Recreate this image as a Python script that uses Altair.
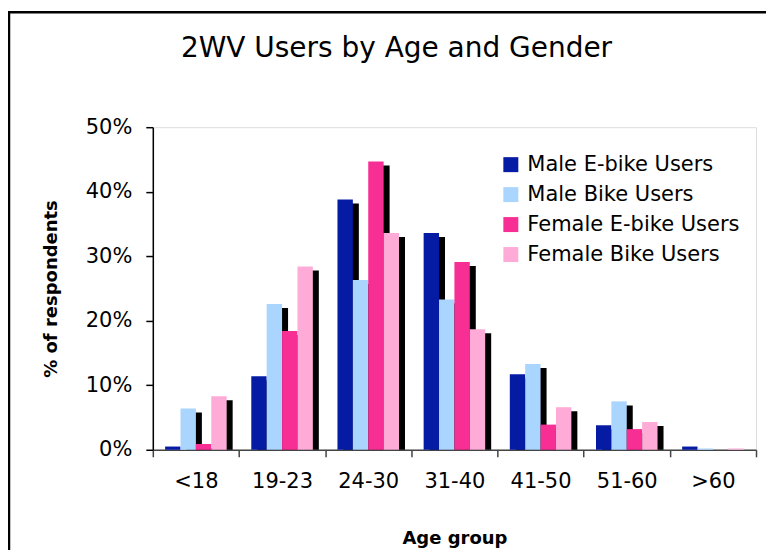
import altair as alt
import pandas as pd

ages = ["<18", "19-23", "24-30", "31-40", "41-50", "51-60", ">60"]
series = ["Male E-bike Users", "Male Bike Users", "Female E-bike Users", "Female Bike Users"]
colors = ["#051BA3", "#AAD5FE", "#F72F95", "#FEACD7"]

male_ebike = [0.5, 11.4, 38.8, 33.6, 11.7, 3.8, 0.5]
male_bike = [6.4, 22.6, 26.3, 23.3, 13.3, 7.5, 0.2]
female_ebike = [0.9, 18.4, 44.7, 29.1, 3.9, 3.2, 0.0]
female_bike = [8.3, 28.4, 33.6, 18.7, 6.6, 4.3, 0.2]

y_ticks = [0, 10, 20, 30, 40, 50]

rows = []
for s, vals in zip(series, [male_ebike, male_bike, female_ebike, female_bike]):
    for a, v in zip(ages, vals):
        rows.append({"age": a, "series": s, "value": v})
df = pd.DataFrame(rows)

FONT = "DejaVu Sans"
W, H = 604, 323
BAND = W / len(ages)
SHIFT = 6

x_enc = alt.X(
    "age:N",
    sort=ages,
    scale=alt.Scale(paddingInner=0, paddingOuter=0),
    axis=alt.Axis(
        title="Age group",
        labelAngle=0,
        tickBand="extent",
        tickSize=7,
        tickColor="#444444",
        tickWidth=1.5,
        domainColor="#444444",
        domainWidth=1.5,
        labelFont=FONT,
        labelFontSize=21,
        labelColor="black",
        labelPadding=14,
        titleFont=FONT,
        titleFontSize=18,
        titleFontWeight="bold",
        titleColor="black",
        titlePadding=38,
        grid=False,
    ),
)

y_enc = alt.Y(
    "value:Q",
    scale=alt.Scale(domain=[0, 50], nice=False),
    axis=alt.Axis(
        title="% of respondents",
        values=y_ticks,
        labelExpr="datum.value + '%'",
        tickSize=7,
        tickColor="black",
        tickWidth=1.5,
        domainColor="black",
        domainWidth=1.5,
        labelFont=FONT,
        labelFontSize=21,
        labelColor="black",
        labelPadding=14,
        titleFont=FONT,
        titleFontSize=18,
        titleFontWeight="bold",
        titleColor="black",
        titlePadding=25,
        grid=False,
    ),
)

shadow = alt.Chart(df).mark_bar(color="black", yOffset=4, clip=True).encode(
    x=x_enc,
    xOffset=alt.XOffset(
        "series:N",
        sort=series,
        scale=alt.Scale(domain=series, range=[SHIFT, BAND + SHIFT], paddingInner=0, paddingOuter=0.8),
    ),
    y=y_enc,
)

bars = alt.Chart(df).mark_bar().encode(
    x=x_enc,
    xOffset=alt.XOffset(
        "series:N",
        sort=series,
        scale=alt.Scale(domain=series, paddingInner=0, paddingOuter=0.8),
    ),
    y=y_enc,
    color=alt.Color(
        "series:N",
        sort=series,
        scale=alt.Scale(domain=series, range=colors),
        legend=alt.Legend(
            title=None,
            orient="none",
            legendX=340,
            legendY=19,
            fillColor="white",
            padding=8,
            symbolType="square",
            symbolSize=225,
            symbolStrokeWidth=0,
            symbolOpacity=1,
            labelFont=FONT,
            labelFontSize=21,
            labelColor="black",
            labelOffset=6,
            rowPadding=8,
            labelLimit=400,
        ),
    ),
)

frame = alt.Chart(pd.DataFrame({"f": [0]})).mark_rect(
    fillOpacity=0, stroke="black", strokeWidth=2.5
).encode(
    x=alt.value(-144), x2=alt.value(800), y=alt.value(-115), y2=alt.value(700)
)

chart = alt.layer(frame, shadow, bars).resolve_scale(xOffset="independent").properties(
    width=W,
    height=H,
    autosize=alt.AutoSizeParams(type="none"),
    padding={"left": 145, "top": 119, "right": 10, "bottom": 100},
    title=alt.TitleParams(
        "2WV Users by Age and Gender",
        font=FONT,
        fontSize=28,
        fontWeight="normal",
        color="black",
        anchor="middle",
        frame="group",
        dx=-58,
        dy=52,
        offset=0,
    ),
).configure_view(stroke="#b5b5b5", strokeWidth=2).configure(background="white")

chart.save("out.html", embed_options={"renderer": "svg", "actions": False})
